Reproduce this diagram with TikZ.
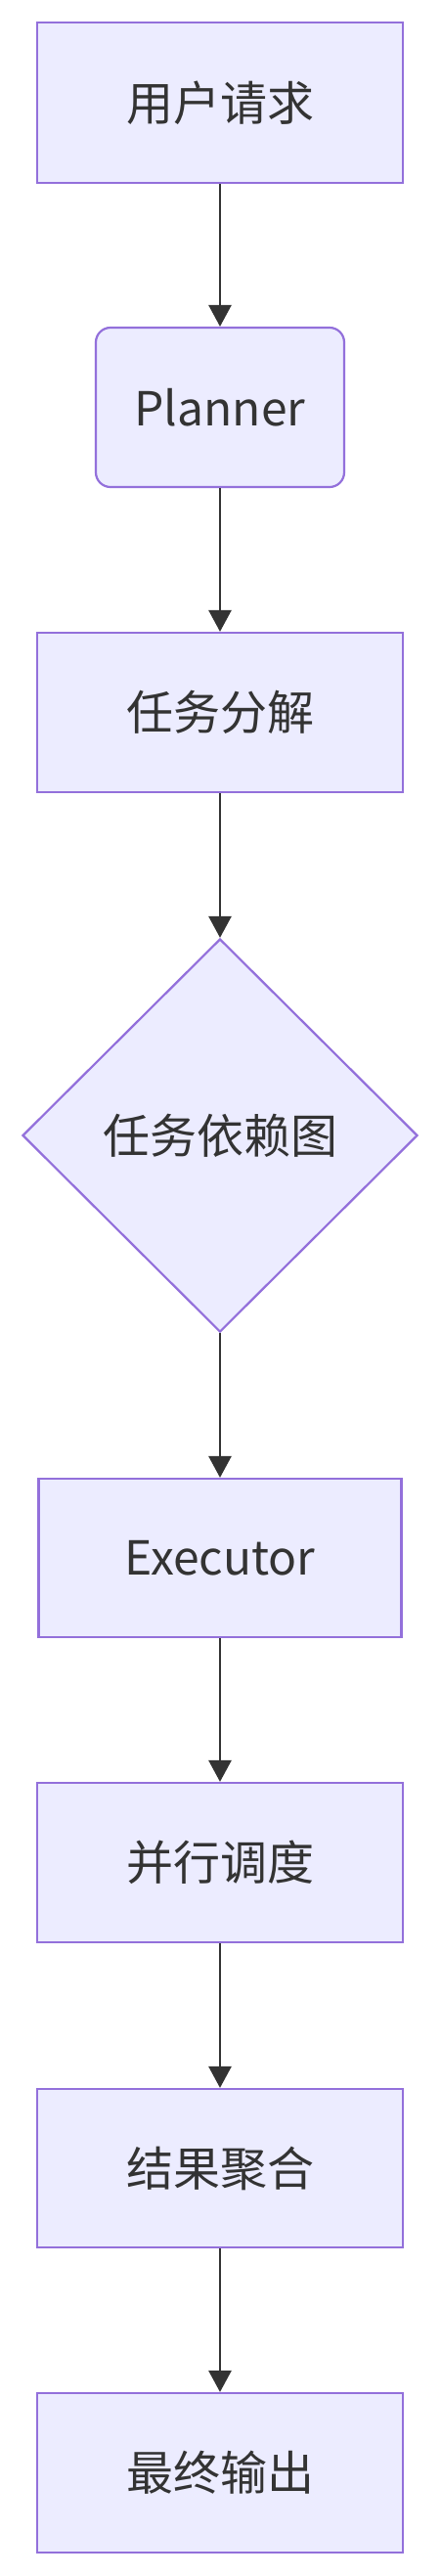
\documentclass[tikz,border=0pt]{standalone}
\usepackage{fontspec}
\setmainfont{Noto Sans CJK SC}
\usetikzlibrary{shapes.geometric,arrows.meta}
\definecolor{nodefill}{HTML}{ECECFF}
\definecolor{nodeline}{HTML}{9370DB}
\definecolor{ink}{HTML}{333333}
\tikzset{
  boxnode/.style={draw=nodeline, fill=nodefill, line width=2.2pt, inner sep=0pt,
    rectangle, text=ink, font=\fontsize{48}{54}\selectfont},
  roundnode/.style={boxnode, rounded corners=15pt},
  decnode/.style={draw=nodeline, fill=nodefill, line width=2.2pt, inner sep=0pt,
    diamond, aspect=1, minimum width=404pt, minimum height=402pt,
    text=ink, font=\fontsize{48}{54}\selectfont},
  flow/.style={draw=ink, line width=2.8pt, -{Triangle[width=23pt,length=22pt]}}
}
\begin{document}
\begin{tikzpicture}[x=1pt,y=-1pt]
\useasboundingbox (0,0) rectangle (450,2634);
\node[boxnode, minimum width=374pt, minimum height=164pt] (a) at (225,105) {用户请求};
\node[roundnode, minimum width=254pt, minimum height=163pt] (b) at (225,416.5) {Planner};
\node[boxnode, minimum width=374pt, minimum height=163pt] (c) at (225,728.5) {任务分解};
\node[decnode] (d) at (225,1161) {任务依赖图};
\node[boxnode, minimum width=371pt, minimum height=162pt] (e) at (225,1593) {Executor};
\node[boxnode, minimum width=374pt, minimum height=163pt] (f) at (225,1904.5) {并行调度};
\node[boxnode, minimum width=374pt, minimum height=162pt] (g) at (225,2217) {结果聚合};
\node[boxnode, minimum width=374pt, minimum height=163pt] (h) at (225,2528.5) {最终输出};
\draw[flow] (a) -- (b);
\draw[flow] (b) -- (c);
\draw[flow] (c) -- (d);
\draw[flow] (d) -- (e);
\draw[flow] (e) -- (f);
\draw[flow] (f) -- (g);
\draw[flow] (g) -- (h);
\end{tikzpicture}
\end{document}
